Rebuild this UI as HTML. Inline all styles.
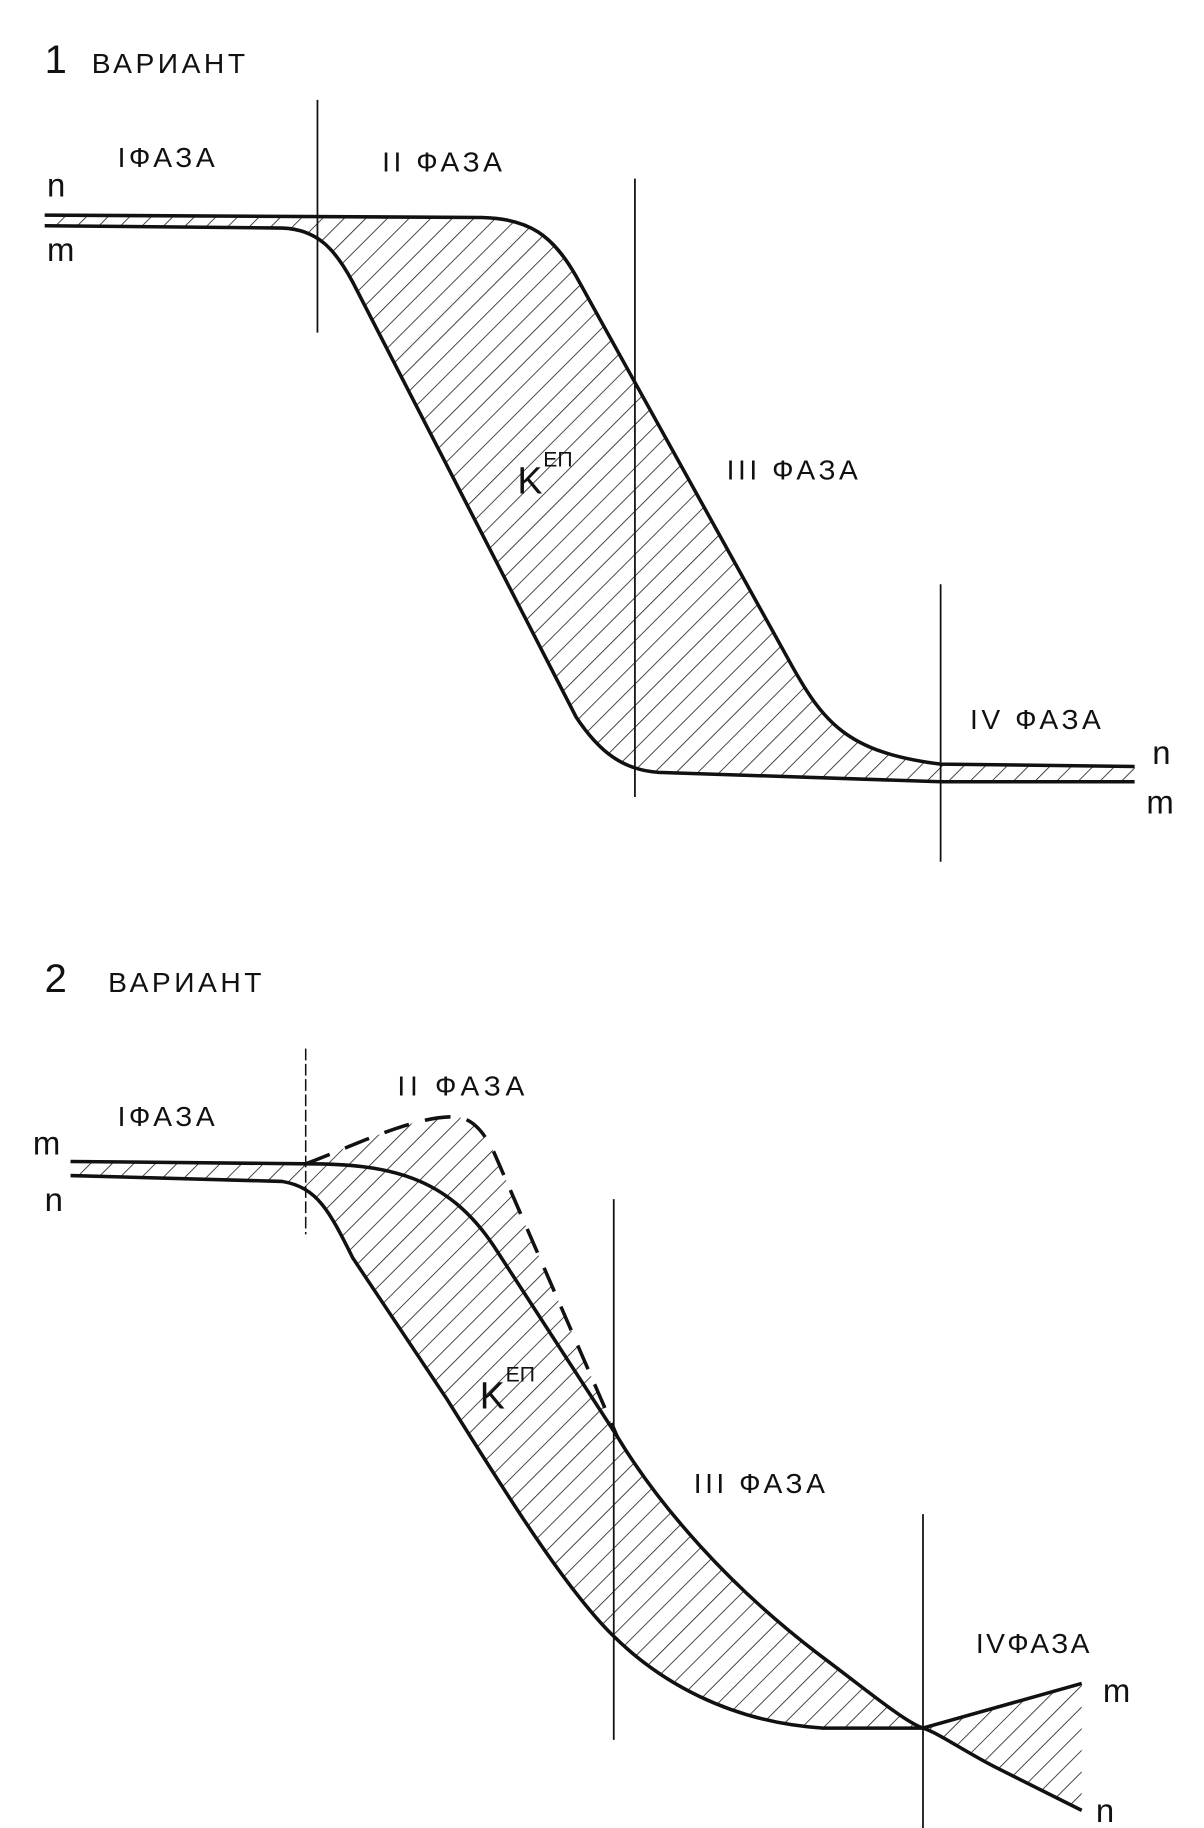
<!DOCTYPE html>
<html><head><meta charset="utf-8"><style>
html,body{margin:0;padding:0;background:#fff}
svg{display:block}
text{font-family:"Liberation Sans",sans-serif;fill:#111}
</style></head><body>
<svg width="1204" height="1828" viewBox="0 0 1024 1555" preserveAspectRatio="none" xmlns="http://www.w3.org/2000/svg">
<defs>
<pattern id="h" patternUnits="userSpaceOnUse" width="13" height="13" patternTransform="rotate(45)">
<line x1="0" y1="0" x2="0" y2="13" stroke="#111" stroke-width="1.3"/>
</pattern>
</defs>
<rect width="1024" height="1555" fill="#fff"/>

<!-- Variant 1 -->
<text x="38" y="62" font-size="34">1</text>
<text x="78" y="62" font-size="24" letter-spacing="3">ВАРИАНТ</text>
<path d="M38,183 L410,185 C450,186 470,200 490,235 L670,560 C700,615 720,640 800,650 L965,652 L965,665 L800,665 L560,657 C530,655 510,640 490,610 L300,240 C285,212 270,195 240,194 L38,192 Z" fill="url(#h)"/>
<path d="M38,183 L410,185 C450,186 470,200 490,235 L670,560 C700,615 720,640 800,650 L965,652" fill="none" stroke="#111" stroke-width="3"/>
<path d="M38,192 L240,194 C270,195 285,212 300,240 L490,610 C510,640 530,655 560,657 L800,665 L965,665" fill="none" stroke="#111" stroke-width="3"/>
<line x1="270" y1="85" x2="270" y2="283" stroke="#111" stroke-width="1.5"/>
<line x1="540" y1="152" x2="540" y2="678" stroke="#111" stroke-width="1.5"/>
<line x1="800" y1="497" x2="800" y2="733" stroke="#111" stroke-width="1.5"/>
<text x="40" y="167" font-size="28">n</text>
<text x="40" y="222" font-size="28">m</text>
<text x="980" y="650" font-size="28">n</text>
<text x="975" y="692" font-size="28">m</text>
<text x="100" y="142" font-size="24" letter-spacing="3">IФАЗА</text>
<text x="325" y="146" font-size="24" letter-spacing="3">II ФАЗА</text>
<text x="618" y="408" font-size="24" letter-spacing="3">III ФАЗА</text>
<text x="825" y="620" font-size="24" letter-spacing="3">IV ФАЗА</text>
<text x="440" y="420" font-size="32">K</text>
<text x="462" y="397" font-size="18">ЕП</text>

<!-- Variant 2 -->
<text x="38" y="844" font-size="34">2</text>
<text x="92" y="844" font-size="24" letter-spacing="3">ВАРИАНТ</text>
<path d="M60,988 L260,990 C300,975 350,950 385,950 C400,950 410,960 420,980 L525,1222 C560,1280 620,1350 700,1410 C740,1440 770,1465 785,1470 L920,1432 L920,1540 L850,1505 C820,1490 800,1475 785,1470 L700,1470 C620,1465 560,1430 520,1390 C480,1350 430,1270 380,1190 L300,1070 C280,1030 270,1010 240,1005 L60,1000 Z" fill="url(#h)"/>
<path d="M60,988 L260,990 C330,990 380,1000 420,1060 L525,1222 C560,1280 620,1350 700,1410 C740,1440 770,1465 785,1470 L920,1432" fill="none" stroke="#111" stroke-width="3"/>
<path d="M60,1000 L240,1005 C270,1010 280,1030 300,1070 L380,1190 C430,1270 480,1350 520,1390 C560,1430 620,1465 700,1470 L785,1470 C800,1475 820,1490 850,1505 L920,1540" fill="none" stroke="#111" stroke-width="3"/>
<path d="M260,990 C300,975 350,950 385,950 C400,950 410,960 420,980 L525,1222" fill="none" stroke="#111" stroke-width="3" stroke-dasharray="22,14"/>
<line x1="260" y1="892" x2="260" y2="1050" stroke="#111" stroke-width="1.3" stroke-dasharray="10,3"/>
<line x1="522" y1="1020" x2="522" y2="1480" stroke="#111" stroke-width="1.5"/>
<line x1="785" y1="1288" x2="785" y2="1555" stroke="#111" stroke-width="1.5"/>
<text x="28" y="982" font-size="28">m</text>
<text x="38" y="1030" font-size="28">n</text>
<text x="938" y="1448" font-size="28">m</text>
<text x="932" y="1550" font-size="28">n</text>
<text x="100" y="958" font-size="24" letter-spacing="3">IФАЗА</text>
<text x="338" y="932" font-size="24" letter-spacing="4">II ФАЗА</text>
<text x="590" y="1270" font-size="24" letter-spacing="3">III ФАЗА</text>
<text x="830" y="1406" font-size="24" letter-spacing="2">IVФАЗА</text>
<text x="408" y="1198" font-size="32">K</text>
<text x="430" y="1175" font-size="18">ЕП</text>
</svg>
</body></html>
